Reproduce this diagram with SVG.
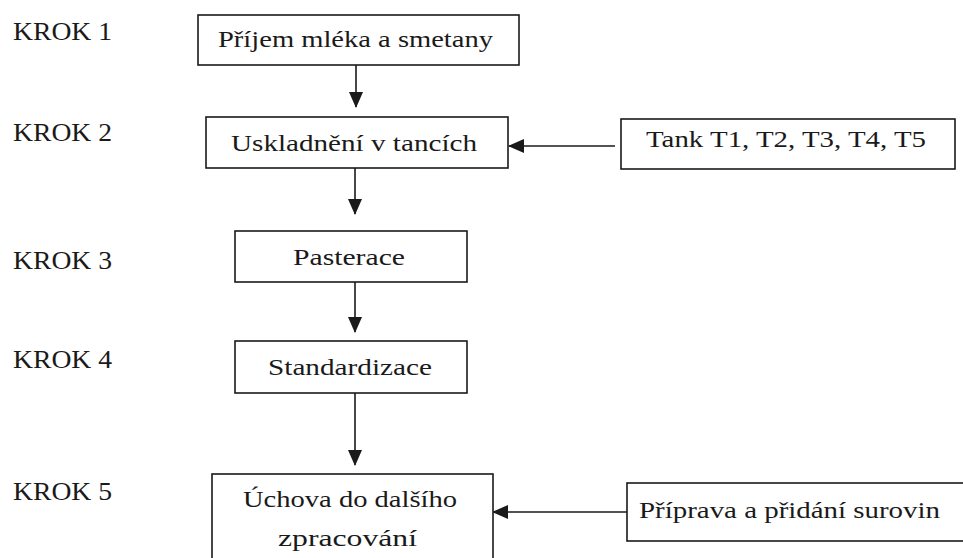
<svg xmlns="http://www.w3.org/2000/svg" width="963" height="558" viewBox="0 0 963 558">
  <defs>
    <style>
      .box { fill: #ffffff; stroke: #1a1a1a; stroke-width: 1.6; }
      .t { font-size: 23px; fill: #1a1a1a; }
      .k { font-size: 25px; fill: #1a1a1a; }
      .c { fill: none; stroke: #1a1a1a; stroke-width: 1.6; }
    </style>
    <marker id="arr" markerUnits="userSpaceOnUse" markerWidth="16" markerHeight="14" refX="15" refY="7" orient="auto">
      <path d="M0,0 L16,7 L0,14 z" fill="#1a1a1a"/>
    </marker>
  </defs>
  <rect width="963" height="558" fill="#ffffff"/>

  <g id="labels" font-family="Liberation Serif, Times New Roman, serif">
    <text class="k" x="13" y="40" textLength="99" lengthAdjust="spacingAndGlyphs">KROK 1</text>
    <text class="k" x="13" y="141" textLength="99" lengthAdjust="spacingAndGlyphs">KROK 2</text>
    <text class="k" x="13" y="269" textLength="99" lengthAdjust="spacingAndGlyphs">KROK 3</text>
    <text class="k" x="13" y="368" textLength="99" lengthAdjust="spacingAndGlyphs">KROK 4</text>
    <text class="k" x="13" y="500" textLength="99" lengthAdjust="spacingAndGlyphs">KROK 5</text>
  </g>

  <g id="connectors">
    <line class="c" x1="356" y1="65" x2="356" y2="107" marker-end="url(#arr)"/>
    <line class="c" x1="355" y1="168" x2="355" y2="214" marker-end="url(#arr)"/>
    <line class="c" x1="355" y1="282" x2="355" y2="332" marker-end="url(#arr)"/>
    <line class="c" x1="355" y1="393" x2="355" y2="465" marker-end="url(#arr)"/>
    <line class="c" x1="615" y1="146" x2="509" y2="146" marker-end="url(#arr)"/>
    <line class="c" x1="627" y1="512" x2="493" y2="512" marker-end="url(#arr)"/>
  </g>

  <g id="nodes" font-family="Liberation Serif, Times New Roman, serif">
  <g id="n1">
    <rect class="box" x="198" y="15" width="321" height="50"/>
    <text class="t" x="218" y="47" textLength="275" lengthAdjust="spacingAndGlyphs">Příjem mléka a smetany</text>
  </g>
  <g id="n2">
    <rect class="box" x="206" y="117" width="302" height="51"/>
    <text class="t" x="231" y="151" textLength="246" lengthAdjust="spacingAndGlyphs">Uskladnění v tancích</text>
  </g>
  <g id="tank">
    <rect class="box" x="621" y="119" width="334" height="50"/>
    <text class="t" x="646" y="147" textLength="280" lengthAdjust="spacingAndGlyphs">Tank T1, T2, T3, T4, T5</text>
  </g>
  <g id="n3">
    <rect class="box" x="235" y="231" width="232" height="51"/>
    <text class="t" x="293" y="265" textLength="112" lengthAdjust="spacingAndGlyphs">Pasterace</text>
  </g>
  <g id="n4">
    <rect class="box" x="235" y="341" width="232" height="52"/>
    <text class="t" x="268" y="375" textLength="164" lengthAdjust="spacingAndGlyphs">Standardizace</text>
  </g>
  <g id="n5">
    <rect class="box" x="212" y="474" width="281" height="90"/>
    <text class="t" x="243" y="507" textLength="214" lengthAdjust="spacingAndGlyphs">Úchova do dalšího</text>
    <text class="t" x="278" y="546" textLength="139" lengthAdjust="spacingAndGlyphs">zpracování</text>
  </g>
  <g id="priprava">
    <rect class="box" x="627" y="483" width="345" height="58"/>
    <text class="t" x="639" y="518" textLength="301" lengthAdjust="spacingAndGlyphs">Příprava a přidání surovin</text>
  </g>
  </g>
</svg>
